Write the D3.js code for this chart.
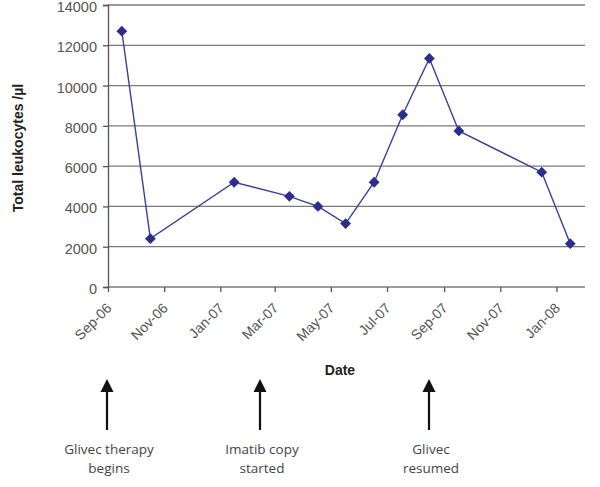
<!DOCTYPE html>
<html><head><meta charset="utf-8">
<script src="https://cdn.jsdelivr.net/npm/d3@7"></script>
<style>body{margin:0;background:#fff}svg{display:block}</style>
</head><body>
<svg id="c" width="600" height="487"></svg>
<script>
const dates = ["2006-09-16","2006-10-17","2007-01-16","2007-03-17","2007-04-17","2007-05-17","2007-06-17","2007-07-18","2007-08-16","2007-09-17","2007-12-16","2008-01-16"];
const leukocytes = [12700,2400,5200,4500,4000,3150,5200,8550,11350,7750,5700,2150];
const yTicks = [0,2000,4000,6000,8000,10000,12000,14000];
const xTicks = ["2006-09-01","2006-11-01","2007-01-01","2007-03-01","2007-05-01","2007-07-01","2007-09-01","2007-11-01","2008-01-01"];
const eventDates = ["2006-08-31","2007-02-13","2007-08-16"];
const eventLabels = [["Glivec therapy","begins"],["Imatib copy","started"],["Glivec","resumed"]];

const parse = d3.utcParse("%Y-%m-%d");
const fmt = d3.utcFormat("%b-%y");
const svg = d3.select("#c");
const x = d3.scaleUtc().domain([parse("2006-09-01"), parse("2008-02-01")]).range([108,585]);
const y = d3.scaleLinear().domain([0,14000]).range([287,5]);
const FONT = "Liberation Sans, Arial, sans-serif";

// gridlines
svg.append("g").selectAll("line").data(yTicks).join("line")
  .attr("x1",108).attr("x2",585).attr("y1",d=>y(d)).attr("y2",d=>y(d))
  .attr("stroke","#7a7a7a").attr("stroke-width",1.3);

// y axis
const ya = svg.append("g").attr("transform","translate(108,0)")
  .call(d3.axisLeft(y).tickValues(yTicks).tickSize(5).tickPadding(6).tickFormat(d3.format("d")));
ya.select(".domain").attr("stroke","#555").attr("stroke-width",1.3);
ya.selectAll(".tick line").attr("stroke","#555").attr("stroke-width",1.3);
ya.selectAll("text").attr("font-family",FONT).attr("font-size",14.5).attr("fill","#555").attr("dy",6.5);

// x axis
const xa = svg.append("g").attr("transform","translate(0,287)")
  .call(d3.axisBottom(x).tickValues(xTicks.map(parse)).tickSize(5).tickFormat(fmt));
xa.select(".domain").remove();
xa.selectAll(".tick line").attr("stroke","#555").attr("stroke-width",1.3);
xa.selectAll("text").attr("font-family",FONT).attr("font-size",14).attr("fill","#555")
  .attr("text-anchor","end").attr("dy",0).attr("y",0)
  .attr("transform","translate(4,22) rotate(-45)");

// line
const pts = dates.map((d,i)=>({d:parse(d), v:leukocytes[i]}));
svg.append("path").datum(pts)
  .attr("d", d3.line().x(p=>x(p.d)).y(p=>y(p.v)))
  .attr("fill","none").attr("stroke","#3a3f98").attr("stroke-width",1.4);
svg.append("g").selectAll("path").data(pts).join("path")
  .attr("d", d3.symbol(d3.symbolDiamond2, 75))
  .attr("transform", p=>`translate(${x(p.d)},${y(p.v)})`)
  .attr("fill","#2b2e8c");

// axis titles
svg.append("text").attr("x",340).attr("y",375).attr("text-anchor","middle")
  .attr("font-family",FONT).attr("font-weight","bold").attr("font-size",14).attr("fill","#222").text("Date");
svg.append("text").attr("transform","translate(23,148) rotate(-90)").attr("text-anchor","middle")
  .attr("font-family",FONT).attr("font-weight","bold").attr("font-size",14).attr("fill","#222").text("Total leukocytes /µl");

// event arrows
const events = eventDates.map((d,i)=>({d:parse(d), lines:eventLabels[i]}));
const ev = svg.append("g").selectAll("g").data(events).join("g")
  .attr("transform", e=>`translate(${Math.round(x(e.d))},0)`);
ev.append("line").attr("x1",0).attr("x2",0).attr("y1",430).attr("y2",388).attr("stroke","#111").attr("stroke-width",2.2);
ev.append("path").attr("d","M-6.5,392 L0,379 L6.5,392 Z").attr("fill","#111");
ev.append("text").attr("text-anchor","middle").attr("font-family","Open Sans, Liberation Sans, sans-serif").attr("font-size",13.5).attr("fill","#444")
  .selectAll("tspan").data(e=>e.lines).join("tspan").attr("x",2).attr("y",(t,i)=>454+i*18.5).text(t=>t);
</script>
</body></html>
